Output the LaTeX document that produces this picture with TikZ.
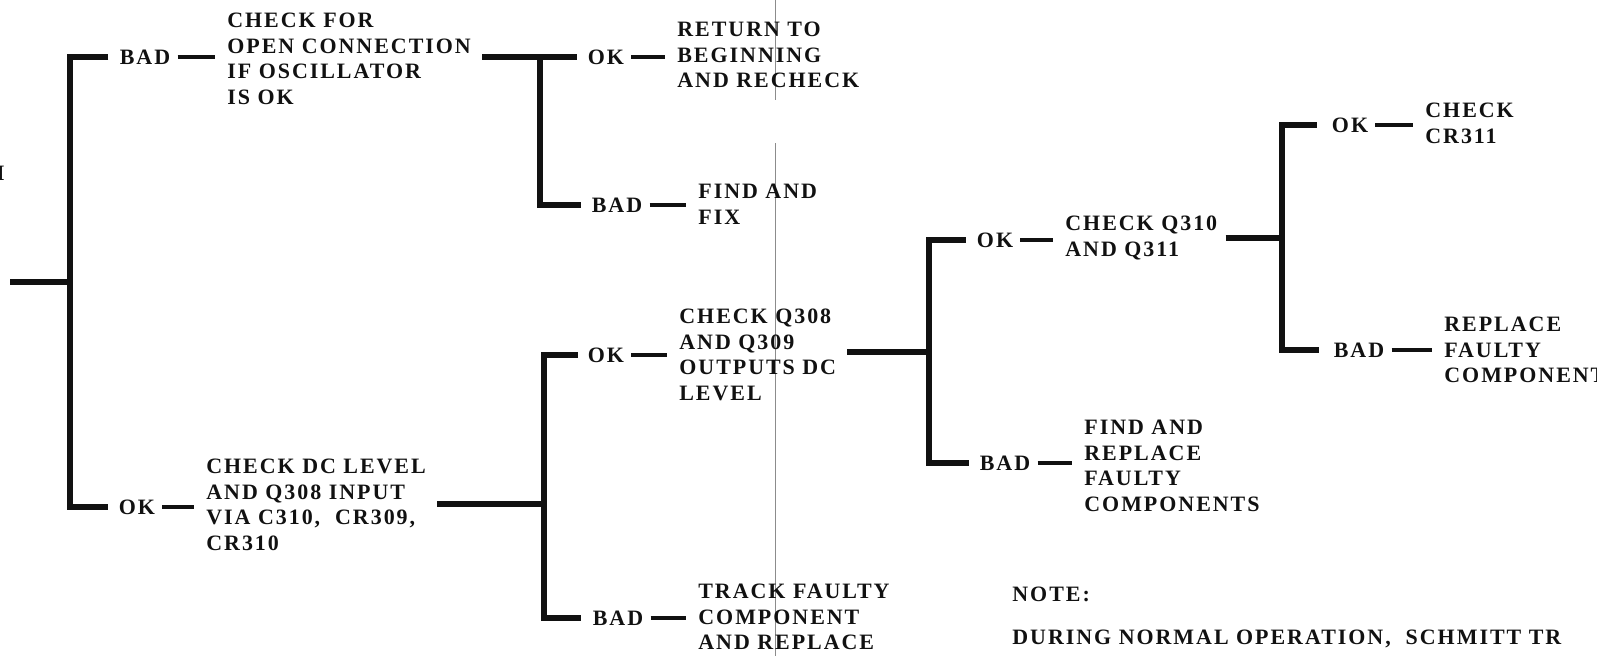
\documentclass[tikz,border=0pt]{standalone}
\usepackage{fontspec}
\usepackage{tikz}
\newfontfamily\scanfont{Liberation Serif}[LetterSpace=9]
\definecolor{ink}{HTML}{111111}
\definecolor{fold}{HTML}{8C8C8C}

\begin{document}
\begin{tikzpicture}[x=0.02cm,y=-0.02cm,
  font={\scanfont\bfseries\fontsize{12.5pt}{14.5pt}\selectfont},
  bar/.style={draw=ink,line width=3pt},
  lbl/.style={inner sep=0pt,text=ink},
  txt/.style={inner sep=0pt,text=ink,align=left,anchor=north west},
  foldline/.style={draw=fold,line width=0.45pt}]
  \clip (0,0) rectangle (1597,656);
  % fold of the scanned page
  \draw[foldline] (775,0) -- (775,100);
  \draw[foldline] (775,143) -- (775,656);
  % junctions
  \coordinate (in) at (10,282);
  \coordinate (j0) at (70,282);
  \coordinate (j1) at (540,57);
  \coordinate (j2) at (544,504);
  \coordinate (j3) at (929,352);
  \coordinate (j4) at (1282,238);
  \node[lbl,anchor=east] (edge) at (5,173) {I};
  % branch labels
  \node[lbl] (b1) at (145,57) {BAD};
  \node[lbl] (o1) at (137,507) {OK};
  \node[lbl] (o2) at (606,57) {OK};
  \node[lbl] (b2) at (617,205) {BAD};
  \node[lbl] (o3) at (606,355) {OK};
  \node[lbl] (b3) at (618,618) {BAD};
  \node[lbl] (o4) at (995,240) {OK};
  \node[lbl] (b4) at (1005,463) {BAD};
  \node[lbl] (o5) at (1350,125) {OK};
  \node[lbl] (b5) at (1359,350) {BAD};
  % steps
  \node[txt] (t1) at (227,13) {CHECK FOR\\OPEN CONNECTION\\IF OSCILLATOR\\IS OK};
  \node[txt] (t2) at (206,459) {CHECK DC LEVEL\\AND Q308 INPUT\\VIA C310,~ CR309,\\CR310};
  \node[txt] (t3) at (677,22) {RETURN TO\\BEGINNING\\AND RECHECK};
  \node[txt] (t4) at (698,184) {FIND AND\\FIX};
  \node[txt] (t5) at (679,309) {CHECK Q308\\AND Q309\\OUTPUTS DC\\LEVEL};
  \node[txt] (t6) at (698,584) {TRACK FAULTY\\COMPONENT\\AND REPLACE};
  \node[txt] (t7) at (1065,216) {CHECK Q310\\AND Q311};
  \node[txt] (t8) at (1084,420) {FIND AND\\REPLACE\\FAULTY\\COMPONENTS};
  \node[txt] (t9) at (1425,103) {CHECK\\CR311};
  \node[txt] (t10) at (1444,317) {REPLACE\\FAULTY\\COMPONENT};
  \node[txt] (note) at (1012,587) {NOTE:};
  \node[txt] (during) at (1012,630) {DURING NORMAL OPERATION,~ SCHMITT TR};
  % brackets
  \draw[bar] (in) -- (j0);
  \draw[bar,shorten <=0.22cm,shorten >=0.22cm] (b1) -| (j0) |- (o1);
  \draw[bar,shorten <=0.22cm,shorten >=0.22cm] (t1.east |- o2) -- (o2);
  \draw[bar,shorten >=0.2cm] (j1) |- (b2);
  \draw[bar,shorten <=0.22cm] (t2.east |- j2) -- (j2);
  \draw[bar,shorten <=0.2cm,shorten >=0.22cm] (o3) -| (j2) |- (b3);
  \draw[bar,shorten <=0.22cm] (t5.east |- j3) -- (j3);
  \draw[bar,shorten <=0.22cm,shorten >=0.2cm] (o4) -| (j3) |- (b4);
  \draw[bar,shorten <=0.16cm] (t7.east |- j4) -- (j4);
  \draw[bar,shorten <=0.3cm,shorten >=0.3cm] (o5) -| (j4) |- (b5);
  % dashes to the steps
  \foreach \a/\b in {b1/t1,o1/t2,o2/t3,b2/t4,o3/t5,b3/t6,o4/t7,b4/t8,o5/t9,b5/t10}
    \draw[bar,line width=2.6pt,shorten <=0.14cm,shorten >=0.24cm] (\a.east) -- (\a.east -| \b.west);
\end{tikzpicture}
\end{document}
